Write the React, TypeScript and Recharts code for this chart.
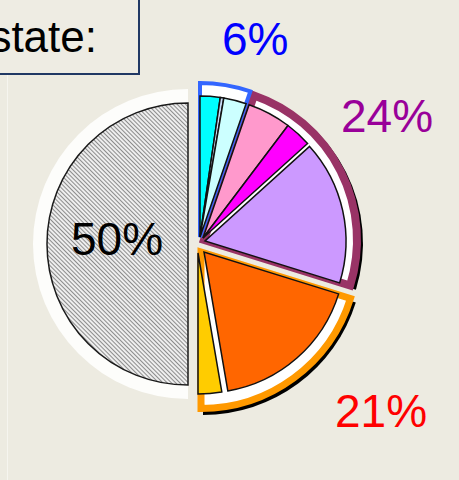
import { PieChart, Pie, Cell } from "recharts";

// slices on the right half, clockwise from 12 o'clock
const sliceNames = ["Cyan", "Pale blue", "Light cyan", "Pink", "Magenta", "Lavender", "Orange", "Yellow"];
const sliceValues = [2.3, 0.4, 2.6, 5.0, 3.0, 16.5, 17.5, 2.7];
const sliceGroup = [0, 0, 0, 1, 1, 1, 2, 2];

// the hatched left half
const restName = "Rest";
const restValue = 50;

const groupLabels = ["6%", "24%", "21%"];
const restLabel = "50%";
const title = "state:";

const sliceColors = ["#00FFFF", "#C8DCF8", "#CCFFFF", "#FF99CC", "#FF00FF", "#CC99FF", "#FF6600", "#FFCC00"];
const ringColors = ["#3366FF", "#993366", "#FF9900"];
const labelColors = ["#0000FF", "#990099", "#FF0000"];

// exploded centres (px)
const sliceCenter = [[200, 237], [200, 237], [200, 237], [203, 238], [203, 238], [205, 241], [204, 252], [198, 253]];
const ringCenter = [[200, 237], [204, 240], [201, 252]];
const ringOuter = [154, 153, 156.5];
const ringStroke = [4, 8, 7];
const labelPos = [[222, 55], [341, 132], [335, 427]];

const W = 459;
const H = 480;
const BG = "#EDEBE1";

const sum = (a: number[]) => a.reduce((s, v) => s + v, 0);

export default function App() {
  const slices = sliceNames.map((name, i) => ({ name, value: sliceValues[i] }));
  const groups = groupLabels.map((name, g) => ({
    name,
    value: sum(sliceValues.filter((_, i) => sliceGroup[i] === g)),
  }));
  const rest = [{ name: restName, value: restValue }];

  const total = sum(sliceValues) + restValue;
  const startA = 90;
  const splitA = startA - (360 * sum(sliceValues)) / total;
  const endA = splitA - (360 * restValue) / total;

  return (
    <div style={{ position: "absolute", left: 0, top: 0, width: W, height: H, background: BG, overflow: "hidden" }}>
      <PieChart width={W} height={H} margin={{ top: 0, right: 0, bottom: 0, left: 0 }}>
        <defs>
          <pattern id="hatch" patternUnits="userSpaceOnUse" width={3} height={3} patternTransform="rotate(-45)">
            <rect x={0} y={0} width={3} height={3} fill="#EEEEEE" />
            <line x1={0.5} y1={0} x2={0.5} y2={3} stroke="#8C8C8C" strokeWidth={1} />
          </pattern>
        </defs>

        <Pie data={rest} dataKey="value" cx={188} cy={244} outerRadius={155} startAngle={splitA} endAngle={endA}
          fill="#FDFDFB" stroke="none" isAnimationActive={false} />
        <Pie data={rest} dataKey="value" cx={188} cy={244} outerRadius={141} startAngle={splitA} endAngle={endA}
          fill="url(#hatch)" stroke="#1A1A1A" strokeWidth={1.5} isAnimationActive={false} />

        {groups.map((_, g) => (
          <Pie key={"sh" + g} data={groups} dataKey="value" cx={ringCenter[g][0] + 2} cy={ringCenter[g][1] + 3}
            outerRadius={ringOuter[g] + ringStroke[g] / 2} startAngle={startA} endAngle={splitA}
            isAnimationActive={false}>
            {groups.map((_, k) => (
              <Cell key={k} fill={k === g ? "#000000" : "none"} stroke="none" />
            ))}
          </Pie>
        ))}

        {[2, 1, 0].map((g) => (
          <Pie key={"ring" + g} data={groups} dataKey="value" cx={ringCenter[g][0]} cy={ringCenter[g][1]}
            outerRadius={ringOuter[g]} startAngle={startA} endAngle={splitA} isAnimationActive={false}>
            {groups.map((_, k) => (
              <Cell key={k} fill={k === g ? "#FFFFFF" : "none"} stroke={k === g ? ringColors[g] : "none"}
                strokeWidth={ringStroke[g]} />
            ))}
          </Pie>
        ))}

        {slices.map((_, i) => (
          <Pie key={"s" + i} data={slices} dataKey="value" cx={sliceCenter[i][0]} cy={sliceCenter[i][1]}
            outerRadius={141} startAngle={startA} endAngle={splitA} isAnimationActive={false}>
            {slices.map((_, k) => (
              <Cell key={k} fill={k === i ? sliceColors[i] : "none"} stroke={k === i ? "#111111" : "none"}
                strokeWidth={1.5} />
            ))}
          </Pie>
        ))}
      </PieChart>

      <svg width={W} height={H} style={{ position: "absolute", left: 0, top: 0, pointerEvents: "none" }}
        fontFamily="'Liberation Sans', Arial, sans-serif">
        <line x1={7.5} y1={75} x2={7.5} y2={H} stroke="#F6F5EF" strokeWidth={1} />
        <rect x={-2} y={-2} width={141} height={76} fill="#EEECE3" stroke="#203864" strokeWidth={2} />
        <text x={97} y={52} fontSize={44} textAnchor="end" fill="#000">{title}</text>
        {groupLabels.map((t, g) => (
          <text key={t} x={labelPos[g][0]} y={labelPos[g][1]} fontSize={46} fill={labelColors[g]}>{t}</text>
        ))}
        <text x={71} y={255} fontSize={46} fill="#000">{restLabel}</text>
      </svg>
    </div>
  );
}
